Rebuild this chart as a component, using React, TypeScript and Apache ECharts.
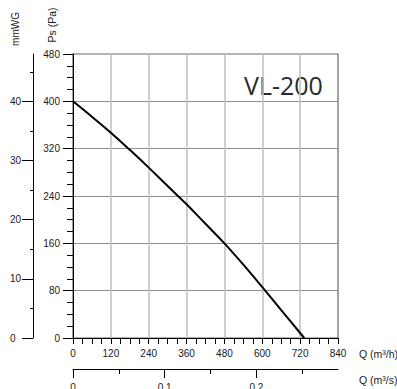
import React, { useEffect, useRef } from "react";
import * as echarts from "echarts";

// Fan curve
const flowM3h = [0, 60, 120, 180, 240, 300, 360, 420, 480, 540, 600, 660, 733];
const pressurePa = [400, 374, 347, 318, 288, 257, 226, 193, 160, 124, 86, 47, 0];

// Axis definitions
const flowMax = 840;
const flowInterval = 120;
const paMax = 480;
const paInterval = 80;
const mmwgTicks = [0, 10, 20, 30, 40];
const mmwgMax = 48;
const m3sTicks = [0, 0.1, 0.2];
const m3sMax = 0.289;
const modelName = "VL-200";

const FONT = "'Liberation Sans', Arial, sans-serif";
const labelStyle = { fontFamily: FONT, fontSize: 10, color: "#1a1a1a" };
const black = { color: "#000", width: 1 };

export default function App() {
  const ref = useRef<HTMLDivElement>(null);
  useEffect(() => {
    if (!ref.current) return;
    const chart = echarts.init(ref.current, null, { renderer: "svg" });
    const option: any = {
      animation: false,
      grid: {
        left: 73,
        top: 54,
        width: 265,
        height: 284,
        containLabel: false,
        outerBoundsMode: "none",
        show: true,
        borderColor: "#666",
        borderWidth: 1.2,
        backgroundColor: "transparent",
      },
      xAxis: [
        {
          type: "value",
          min: 0,
          max: flowMax,
          interval: flowInterval,
          position: "bottom",
          axisLine: { show: true, onZero: false, lineStyle: black },
          axisTick: { show: true, length: 6, lineStyle: black },
          minorTick: { show: true, splitNumber: 4, length: 6, lineStyle: black },
          axisLabel: { margin: 10, ...labelStyle },
          splitLine: {
            show: true,
            showMinLine: false,
            showMaxLine: false,
            lineStyle: { color: "#c2c2c2", width: 1.6 },
          },
        },
        {
          type: "value",
          min: 0,
          max: m3sMax,
          interval: 0.1,
          position: "bottom",
          offset: 31,
          axisLine: { show: true, onZero: false, lineStyle: black },
          axisTick: { show: true, length: 9, customValues: m3sTicks, lineStyle: black },
          minorTick: { show: true, splitNumber: 2, length: 5, lineStyle: black },
          axisLabel: { margin: 13, customValues: m3sTicks, ...labelStyle },
          splitLine: { show: false },
        },
      ],
      yAxis: [
        {
          type: "value",
          min: 0,
          max: paMax,
          interval: paInterval,
          position: "left",
          axisLine: { show: true, onZero: false, lineStyle: black },
          axisTick: { show: true, length: 10, lineStyle: black },
          minorTick: { show: true, splitNumber: 4, length: 6, lineStyle: black },
          axisLabel: { margin: 13, ...labelStyle },
          splitLine: {
            show: true,
            showMinLine: false,
            showMaxLine: false,
            lineStyle: { color: "#8f8f8f", width: 1 },
          },
        },
        {
          type: "value",
          min: 0,
          max: mmwgMax,
          interval: 10,
          position: "left",
          offset: 40,
          axisLine: { show: true, onZero: false, lineStyle: black },
          axisTick: { show: true, length: 11, customValues: mmwgTicks, lineStyle: black },
          minorTick: { show: true, splitNumber: 2, length: 3, lineStyle: black },
          axisLabel: { margin: 23, align: "left", customValues: mmwgTicks, ...labelStyle },
          splitLine: { show: false },
        },
      ],
      series: [
        {
          type: "line",
          xAxisIndex: 0,
          yAxisIndex: 0,
          data: flowM3h.map((q, i) => [q, pressurePa[i]]),
          smooth: 0.4,
          showSymbol: false,
          clip: false,
          lineStyle: { color: "#000", width: 2 },
        },
      ],
      graphic: [
        {
          type: "text",
          x: 15,
          y: 29,
          rotation: Math.PI / 2,
          style: {
            text: "mmWG",
            fontFamily: FONT,
            fontSize: 10,
            fill: "#1a1a1a",
            align: "center",
            verticalAlign: "middle",
            textAlign: "center",
            textVerticalAlign: "middle",
          },
        },
        {
          type: "text",
          x: 52,
          y: 25,
          rotation: Math.PI / 2,
          style: {
            text: "Ps (Pa)",
            fontFamily: FONT,
            fontSize: 10.5,
            fill: "#1a1a1a",
            align: "center",
            verticalAlign: "middle",
            textAlign: "center",
            textVerticalAlign: "middle",
          },
        },
        {
          type: "text",
          x: 359,
          y: 354,
          style: {
            text: "Q (m³/h)",
            fontFamily: FONT,
            fontSize: 10.5,
            fill: "#1a1a1a",
            align: "left",
            verticalAlign: "middle",
            textAlign: "left",
            textVerticalAlign: "middle",
          },
        },
        {
          type: "text",
          x: 359,
          y: 380,
          style: {
            text: "Q (m³/s)",
            fontFamily: FONT,
            fontSize: 10.5,
            fill: "#1a1a1a",
            align: "left",
            verticalAlign: "middle",
            textAlign: "left",
            textVerticalAlign: "middle",
          },
        },
        {
          type: "text",
          x: 244,
          y: 85,
          style: {
            text: modelName,
            fontFamily: "'Open Sans', 'Noto Sans', sans-serif",
            fontSize: 25,
            fill: "#2a2a2a",
            align: "left",
            verticalAlign: "middle",
            textAlign: "left",
            textVerticalAlign: "middle",
          },
        },
      ],
    };
    chart.setOption(option);
    return () => chart.dispose();
  }, []);
  return (
    <div
      ref={ref}
      style={{ position: "absolute", left: 0, top: 0, width: 397, height: 389 }}
    />
  );
}
